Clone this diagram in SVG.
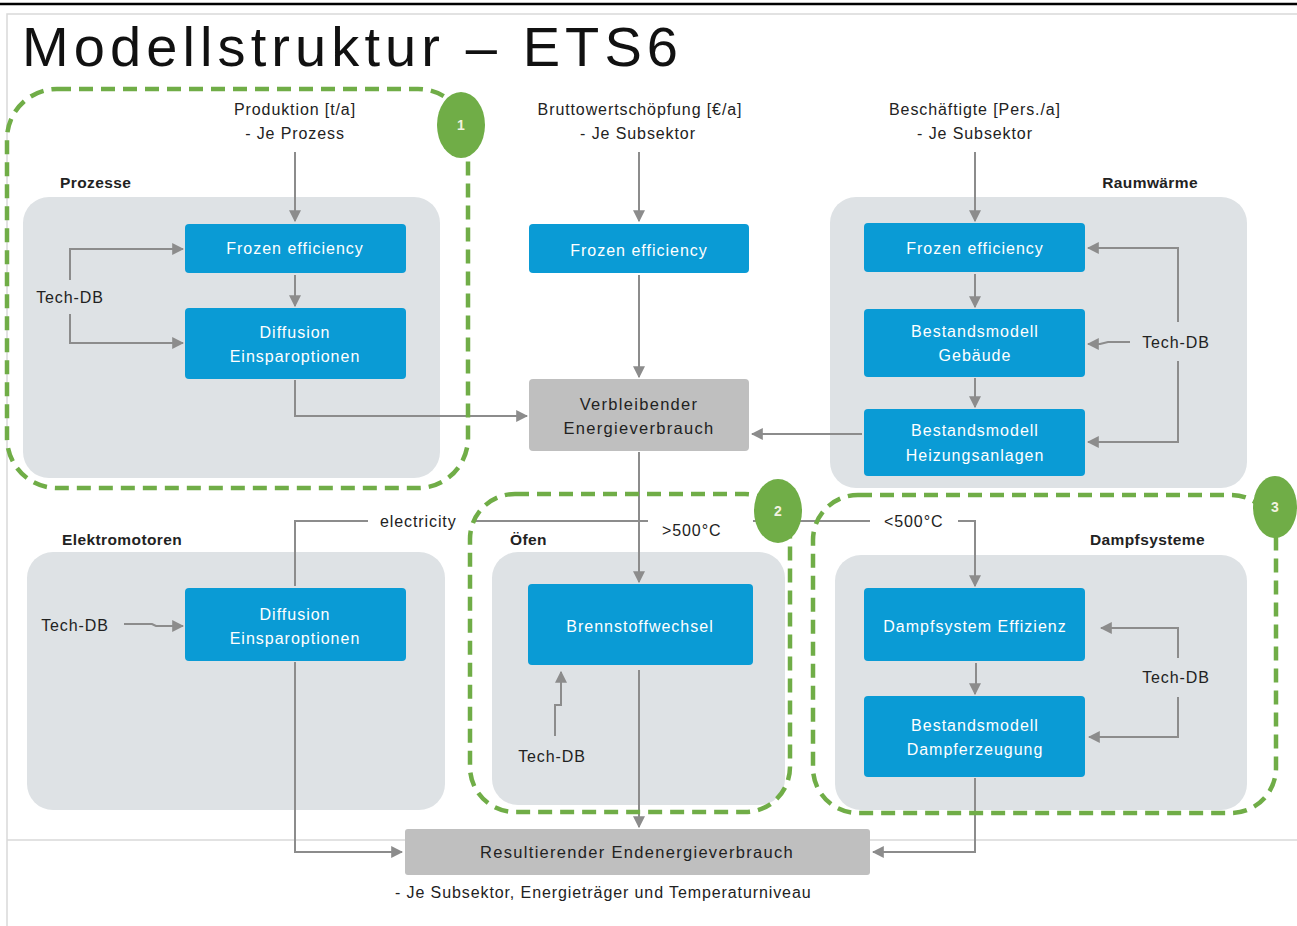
<svg xmlns="http://www.w3.org/2000/svg" width="1297" height="926" viewBox="0 0 1297 926">
  <style>
    .panel { fill: #dee2e5; }
    .blue { fill: #0a9bd5; }
    .grey { fill: #bfbfbf; }
    .zone { fill: none; stroke: #70ad47; stroke-width: 4.5; stroke-dasharray: 14 8; }
    .badge { fill: #70ad47; }
    .badge-t { font-family: "Liberation Sans", Arial, sans-serif; font-size: 14px; font-weight: bold; fill: #f2f2e0; text-anchor: middle; }
    .conn { fill: none; stroke: #8c8c8c; stroke-width: 2; }
    .t { font-family: "Liberation Sans", Arial, sans-serif; font-size: 16px; fill: #222; letter-spacing: 0.9px; }
    .tc { text-anchor: middle; }
    .b { font-weight: bold; letter-spacing: 0.4px; font-size: 15.5px; }
    .w { fill: #ffffff; font-size: 16px; text-anchor: middle; letter-spacing: 1px; }
    .g { font-size: 16.5px; letter-spacing: 1.3px; }
    .frame { stroke: #d9d9d9; stroke-width: 1.5; fill: none; }
  </style>
  <defs>
    <marker id="arr" viewBox="0 0 10 10" refX="9" refY="5" markerWidth="6" markerHeight="6" orient="auto" markerUnits="strokeWidth">
      <path d="M0,0 L10,5 L0,10 z" fill="#8c8c8c"/>
    </marker>
  </defs>

  <rect x="0" y="0" width="1297" height="926" fill="#ffffff"/>

  <!-- page frame -->
  <line x1="0" y1="4" x2="1297" y2="4" stroke="#000" stroke-width="2.5"/>
  <path class="frame" d="M7,926 V14 H1297"/>
  <line class="frame" x1="7" y1="840" x2="1297" y2="840"/>

  <text x="22" y="66" font-family="Liberation Sans, Arial, sans-serif" font-size="56" fill="#111" textLength="656" lengthAdjust="spacing">Modellstruktur – ETS6</text>

  <!-- sector panels -->
  <g id="panel-prozesse">
    <rect class="panel" x="23" y="197" width="417" height="281" rx="26"/>
    <text class="t b" x="60" y="188">Prozesse</text>
  </g>
  <g id="panel-raumwaerme">
    <rect class="panel" x="830" y="197" width="417" height="291" rx="26"/>
    <text class="t b" x="1198" y="188" text-anchor="end">Raumwärme</text>
  </g>
  <g id="panel-elektromotoren">
    <rect class="panel" x="27" y="552" width="418" height="258" rx="26"/>
    <text class="t b" x="62" y="545">Elektromotoren</text>
  </g>
  <g id="panel-oefen">
    <rect class="panel" x="492" y="552" width="293" height="253" rx="26"/>
    <text class="t b" x="510" y="545">Öfen</text>
  </g>
  <g id="panel-dampfsysteme">
    <rect class="panel" x="835" y="555" width="412" height="255" rx="26"/>
    <text class="t b" x="1205" y="545" text-anchor="end">Dampfsysteme</text>
  </g>

  <!-- connectors -->
  <g id="connectors">
    <!-- Prozesse -->
    <path class="conn" d="M295,152 V221" marker-end="url(#arr)"/>
    <path class="conn" d="M295,275 V306" marker-end="url(#arr)"/>
    <path class="conn" d="M70,280 V249 H183" marker-end="url(#arr)"/>
    <path class="conn" d="M70,314 V343 H183" marker-end="url(#arr)"/>
    <path class="conn" d="M295,380 V416 H527" marker-end="url(#arr)"/>
    <!-- centre column -->
    <path class="conn" d="M639,152 V221" marker-end="url(#arr)"/>
    <path class="conn" d="M639,275 V377" marker-end="url(#arr)"/>
    <path class="conn" d="M639,452 V582" marker-end="url(#arr)"/>
    <path class="conn" d="M295,586 V521 H975 V586" marker-end="url(#arr)"/>
    <!-- Raumwärme -->
    <path class="conn" d="M975,152 V221" marker-end="url(#arr)"/>
    <path class="conn" d="M975,274 V307" marker-end="url(#arr)"/>
    <path class="conn" d="M975,378 V407" marker-end="url(#arr)"/>
    <path class="conn" d="M1178,322 V248 H1088" marker-end="url(#arr)"/>
    <path class="conn" d="M1130,342 H1108 L1100,344 H1088" marker-end="url(#arr)"/>
    <path class="conn" d="M1178,361 V442 H1088" marker-end="url(#arr)"/>
    <path class="conn" d="M862,434 H752" marker-end="url(#arr)"/>
    <!-- Elektromotoren -->
    <path class="conn" d="M124,624 H152 L156,626 H183" marker-end="url(#arr)"/>
    <path class="conn" d="M295,662 V852 H402" marker-end="url(#arr)"/>
    <!-- Öfen -->
    <path class="conn" d="M555,736 V705 H561 V672" marker-end="url(#arr)"/>
    <path class="conn" d="M639,670 V827" marker-end="url(#arr)"/>
    <!-- Dampfsysteme -->
    <path class="conn" d="M976,663 V684 L975,686 V694" marker-end="url(#arr)"/>
    <path class="conn" d="M1178,658 V628 H1101" marker-end="url(#arr)"/>
    <path class="conn" d="M1178,697 V737 H1089" marker-end="url(#arr)"/>
    <path class="conn" d="M975,778 V852 H873" marker-end="url(#arr)"/>
  </g>

  <!-- connector labels -->
  <g id="label-electricity">
    <rect x="368" y="508" width="104" height="26" fill="#ffffff"/>
    <text class="t" x="380" y="527">electricity</text>
  </g>
  <g id="label-hot">
    <rect x="648" y="512" width="105" height="30" fill="#ffffff"/>
    <text class="t" x="662" y="536">&gt;500°C</text>
  </g>
  <g id="label-cold">
    <rect x="870" y="506" width="88" height="31" fill="#ffffff"/>
    <text class="t" x="884" y="527">&lt;500°C</text>
  </g>

  <!-- dashed groupings with numbered badges -->
  <g id="zone-1">
    <rect class="zone" x="7" y="89" width="461" height="399" rx="50"/>
    <ellipse class="badge" cx="461" cy="125" rx="24" ry="33"/>
    <text class="badge-t" x="461" y="130">1</text>
  </g>
  <g id="zone-2">
    <rect class="zone" x="470" y="494" width="320" height="318" rx="45"/>
    <ellipse class="badge" cx="778" cy="511" rx="24" ry="32"/>
    <text class="badge-t" x="778" y="516">2</text>
  </g>
  <g id="zone-3">
    <rect class="zone" x="813" y="495" width="463" height="318" rx="45"/>
    <ellipse class="badge" cx="1275" cy="507" rx="22" ry="31"/>
    <text class="badge-t" x="1275" y="512">3</text>
  </g>

  <!-- driver inputs -->
  <g id="input-produktion">
    <text class="t tc" x="295" y="115">Produktion [t/a]</text>
    <text class="t tc" x="295" y="139">- Je Prozess</text>
  </g>
  <g id="input-bws">
    <text class="t tc" x="640" y="115">Bruttowertschöpfung [€/a]</text>
    <text class="t tc" x="638" y="139">- Je Subsektor</text>
  </g>
  <g id="input-beschaeftigte">
    <text class="t tc" x="975" y="115">Beschäftigte [Pers./a]</text>
    <text class="t tc" x="975" y="139">- Je Subsektor</text>
  </g>

  <!-- Tech-DB sources -->
  <g id="techdb-prozesse"><text class="t tc" x="70" y="303">Tech-DB</text></g>
  <g id="techdb-raumwaerme"><text class="t tc" x="1176" y="348">Tech-DB</text></g>
  <g id="techdb-elektro"><text class="t tc" x="75" y="631">Tech-DB</text></g>
  <g id="techdb-oefen"><text class="t tc" x="552" y="762">Tech-DB</text></g>
  <g id="techdb-dampf"><text class="t tc" x="1176" y="683">Tech-DB</text></g>

  <!-- model blocks -->
  <g id="proz-frozen">
    <rect class="blue" x="185" y="224" width="221" height="49" rx="4"/>
    <text class="t w" x="295" y="254">Frozen efficiency</text>
  </g>
  <g id="proz-diffusion">
    <rect class="blue" x="185" y="308" width="221" height="71" rx="4"/>
    <text class="t w" x="295" y="338">Diffusion</text>
    <text class="t w" x="295" y="362">Einsparoptionen</text>
  </g>
  <g id="bws-frozen">
    <rect class="blue" x="529" y="224" width="220" height="49" rx="4"/>
    <text class="t w" x="639" y="256">Frozen efficiency</text>
  </g>
  <g id="verbleibend">
    <rect class="grey" x="529" y="379" width="220" height="72" rx="4"/>
    <text class="t tc g" x="639" y="410">Verbleibender</text>
    <text class="t tc g" x="639" y="434">Energieverbrauch</text>
  </g>
  <g id="rw-frozen">
    <rect class="blue" x="864" y="223" width="221" height="49" rx="4"/>
    <text class="t w" x="975" y="254">Frozen efficiency</text>
  </g>
  <g id="rw-gebaeude">
    <rect class="blue" x="864" y="309" width="221" height="68" rx="4"/>
    <text class="t w" x="975" y="337">Bestandsmodell</text>
    <text class="t w" x="975" y="361">Gebäude</text>
  </g>
  <g id="rw-heizung">
    <rect class="blue" x="864" y="409" width="221" height="67" rx="4"/>
    <text class="t w" x="975" y="436">Bestandsmodell</text>
    <text class="t w" x="975" y="461">Heizungsanlagen</text>
  </g>
  <g id="em-diffusion">
    <rect class="blue" x="185" y="588" width="221" height="73" rx="4"/>
    <text class="t w" x="295" y="620">Diffusion</text>
    <text class="t w" x="295" y="644">Einsparoptionen</text>
  </g>
  <g id="of-brennstoff">
    <rect class="blue" x="528" y="584" width="225" height="81" rx="4"/>
    <text class="t w" x="640" y="632">Brennstoffwechsel</text>
  </g>
  <g id="ds-effizienz">
    <rect class="blue" x="864" y="588" width="221" height="73" rx="4"/>
    <text class="t w" x="975" y="632">Dampfsystem Effizienz</text>
  </g>
  <g id="ds-erzeugung">
    <rect class="blue" x="864" y="696" width="221" height="81" rx="4"/>
    <text class="t w" x="975" y="731">Bestandsmodell</text>
    <text class="t w" x="975" y="755">Dampferzeugung</text>
  </g>
  <g id="resultierend">
    <rect class="grey" x="405" y="829" width="465" height="46" rx="3"/>
    <text class="t tc g" x="637" y="858">Resultierender Endenergieverbrauch</text>
    <text class="t" x="395" y="898">- Je Subsektor, Energieträger und Temperaturniveau</text>
  </g>
</svg>
